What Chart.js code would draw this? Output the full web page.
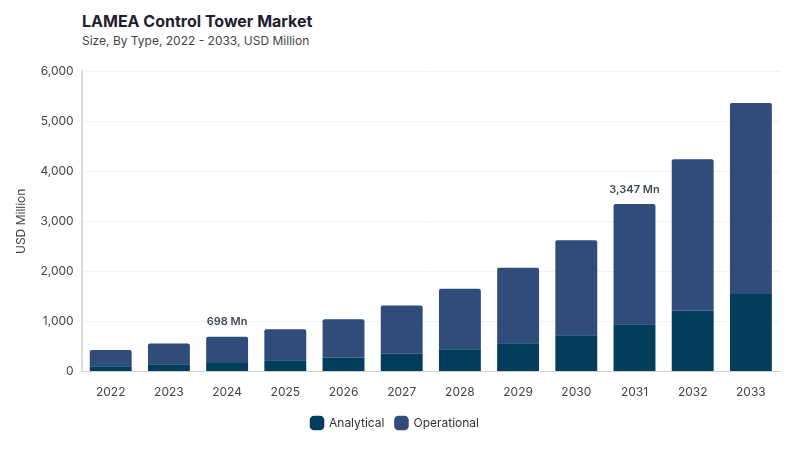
<!DOCTYPE html>
<html>
<head>
<meta charset="utf-8">
<script src="https://cdn.jsdelivr.net/npm/chart.js@4.4.1/dist/chart.umd.min.js"></script>
<style>
  html, body { margin: 0; padding: 0; background: #fff; }
  #wrap { position: relative; width: 800px; height: 450px; font-family: Inter, "Noto Sans", sans-serif; }
  #title { position: absolute; left: 82px; top: 11px; font-size: 16px; font-weight: 700; color: #1e2030; }
  #subtitle { position: absolute; left: 82px; top: 33px; font-size: 12px; color: #444; }
  canvas { position: absolute; left: 0; top: 0; }
</style>
</head>
<body>
<div id="wrap">
  <div id="title">LAMEA Control Tower Market</div>
  <div id="subtitle">Size, By Type, 2022 - 2033, USD Million</div>
  <canvas id="chart" width="800" height="450"></canvas>
</div>
<script>
const years = ['2022', '2023', '2024', '2025', '2026', '2027', '2028', '2029', '2030', '2031', '2032', '2033'];
const analytical = [107, 147, 173, 227, 280, 355, 446, 567, 727, 947, 1213, 1547];
const operational = [326, 413, 525, 620, 767, 965, 1208, 1506, 1893, 2400, 3027, 3813];
const labelledYears = ['2024', '2031'];
const totalLabels = ['698 Mn', '3,347 Mn'];

const fontFamily = 'Inter, "Noto Sans", sans-serif';

// writes the total above the chosen bars
const totalsPlugin = {
    id: 'totals',
    afterDatasetsDraw(chart) {
        const ctx = chart.ctx;
        const meta = chart.getDatasetMeta(chart.data.datasets.length - 1);
        ctx.save();
        ctx.font = '600 11px ' + fontFamily;
        ctx.fillStyle = '#444a55';
        ctx.textAlign = 'center';
        ctx.textBaseline = 'bottom';
        labelledYears.forEach((y, i) => {
            const idx = years.indexOf(y);
            const bar = meta.data[idx];
            ctx.fillText(totalLabels[i], bar.x, bar.y - 9);
        });
        ctx.restore();
    }
};

new Chart(document.getElementById('chart'), {
    type: 'bar',
    data: {
        labels: years,
        datasets: [
            {
                label: 'Analytical',
                data: analytical,
                backgroundColor: '#023e5b',
                categoryPercentage: 0.72,
                barPercentage: 1
            },
            {
                label: 'Operational',
                data: operational,
                backgroundColor: '#2f4c7b',
                borderRadius: {topLeft: 2, topRight: 2},
                borderSkipped: false,
                categoryPercentage: 0.72,
                barPercentage: 1
            }
        ]
    },
    options: {
        responsive: false,
        animation: false,
        layout: { padding: { top: 71, right: 20, left: 10, bottom: 11 } },
        scales: {
            x: {
                stacked: true,
                grid: { display: false },
                border: { color: '#cfcfcf' },
                ticks: { color: '#444', font: { size: 12, family: fontFamily }, padding: 6 }
            },
            y: {
                stacked: true,
                min: 0,
                max: 6000,
                ticks: {
                    stepSize: 1000,
                    color: '#444',
                    padding: 8,
                    font: { size: 12, family: fontFamily },
                    callback: v => v.toLocaleString('en-US')
                },
                grid: { color: '#f2f2f2', drawTicks: false },
                border: { color: '#dcdcdc', width: 2 },
                title: {
                    display: true,
                    text: 'USD Million',
                    color: '#444',
                    font: { size: 12, family: fontFamily }
                }
            }
        },
        plugins: {
            legend: {
                position: 'bottom',
                labels: {
                    usePointStyle: true,
                    pointStyle: 'rectRounded',
                    boxWidth: 14,
                    boxHeight: 14,
                    padding: 11,
                    color: '#333',
                    font: { size: 12, family: fontFamily }
                }
            },
            tooltip: { enabled: false }
        }
    },
    plugins: [totalsPlugin]
});
</script>
</body>
</html>
